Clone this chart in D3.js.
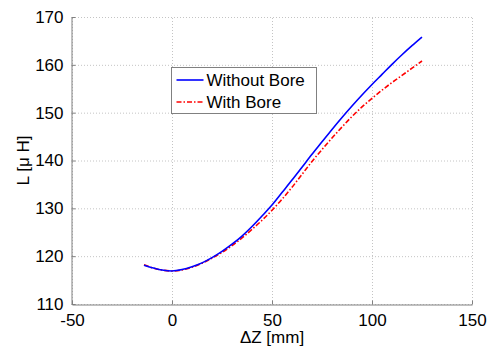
<!DOCTYPE html>
<html>
<head>
<meta charset="utf-8">
<script src="https://cdn.jsdelivr.net/npm/d3@7"></script>
<style>
  html, body { margin: 0; padding: 0; background: #fff; }
  svg text { font-family: "Liberation Sans", Arial, Helvetica, sans-serif; }
</style>
</head>
<body>
<svg id="chart"></svg>
<script>
// ==== DATA ====
const dz = [-14, -10, -5, 0, 5, 10, 15, 20, 25, 30, 35, 40, 45, 50, 55, 60, 65,
  70, 75, 80, 85, 90, 95, 100, 105, 110, 115, 120, 125];

const withoutBore = [118.1, 117.6, 117.1, 116.9, 117.2, 117.8, 118.6, 119.7, 121.0,
  122.5, 124.2, 126.2, 128.4, 130.7, 133.3, 135.9, 138.6, 141.3, 143.9, 146.5,
  149.0, 151.4, 153.7, 155.9, 158.0, 160.1, 162.1, 164.0, 165.8];

const withBore = [118.2, 117.6, 117.1, 116.9, 117.1, 117.7, 118.5, 119.6, 120.8,
  122.2, 123.8, 125.6, 127.5, 129.6, 131.9, 134.4, 137.1, 139.8, 142.3, 144.7,
  147.0, 149.2, 151.2, 153.0, 154.7, 156.3, 157.8, 159.3, 160.8];

const xTicks = [-50, 0, 50, 100, 150];
const yTicks = [110, 120, 130, 140, 150, 160, 170];

const seriesNames = ["Without Bore", "With Bore"];

// ==== LAYOUT ====
const width = 501, height = 348;
const margin = { left: 72, right: 29, top: 17, bottom: 44 };
const FONT = 17;
const AXIS_COLOR = "#808080";
const GRID_COLOR = "#c4c4c4";

const svg = d3.select("#chart").attr("width", width).attr("height", height);

const x = d3.scaleLinear().domain([-50, 150]).range([margin.left, width - margin.right]);
const y = d3.scaleLinear().domain([110, 170]).range([height - margin.bottom, margin.top]);

// matlab style tick text: plain hyphen for negatives
const fmt = d => String(d);

// grid (dotted)
const grid = svg.append("g").attr("class", "grid");
grid.selectAll("line.gx")
  .data(xTicks)
  .join("line")
  .attr("class", "gx")
  .attr("x1", d => x(d) + 0.5).attr("x2", d => x(d) + 0.5)
  .attr("y1", y(110)).attr("y2", y(170))
  .attr("stroke", GRID_COLOR)
  .attr("stroke-dasharray", "1,2");

grid.selectAll("line.gy")
  .data(yTicks)
  .join("line")
  .attr("class", "gy")
  .attr("y1", d => y(d) + 0.5).attr("y2", d => y(d) + 0.5)
  .attr("x1", x(-50)).attr("x2", x(150))
  .attr("stroke", GRID_COLOR)
  .attr("stroke-dasharray", "1,2");

// axes (box off: only left and bottom)
const xAxis = d3.axisBottom(x).tickValues(xTicks).tickFormat(fmt)
  .tickSizeInner(-4).tickSizeOuter(0).tickPadding(9);
const yAxis = d3.axisLeft(y).tickValues(yTicks).tickFormat(fmt)
  .tickSizeInner(-4).tickSizeOuter(0).tickPadding(8);

const gx = svg.append("g")
  .attr("transform", `translate(0,${y(110) + 0.5})`)
  .call(xAxis);
const gy = svg.append("g")
  .attr("transform", `translate(${x(-50) - 0.5},0)`)
  .call(yAxis);

[gx, gy].forEach(g => {
  g.select(".domain").attr("stroke", AXIS_COLOR);
  g.selectAll(".tick line").attr("stroke", AXIS_COLOR);
  g.selectAll(".tick text")
    .attr("fill", "#000")
    .style("font-size", FONT + "px");
});

// axis labels
svg.append("text")
  .attr("x", (x(-50) + x(150)) / 2)
  .attr("y", height - 5)
  .attr("text-anchor", "middle")
  .style("font-size", FONT + "px")
  .text("ΔZ [mm]");

svg.append("text")
  .attr("transform", `translate(29,${(y(110) + y(170)) / 2}) rotate(-90)`)
  .attr("text-anchor", "middle")
  .style("font-size", FONT + "px")
  .text("L [μ H]");

// lines
const lineGen = vals => d3.line()
  .x((d, i) => x(dz[i]))
  .y(d => y(d))
  .curve(d3.curveMonotoneX)(vals);

svg.append("path")
  .attr("d", lineGen(withBore))
  .attr("fill", "none")
  .attr("stroke", "#ff0000")
  .attr("stroke-width", 1.6)
  .attr("stroke-dasharray", "5,2,1.5,2");

svg.append("path")
  .attr("d", lineGen(withoutBore))
  .attr("fill", "none")
  .attr("stroke", "#0000ff")
  .attr("stroke-width", 1.6);

// legend
const legend = svg.append("g").attr("transform", "translate(171.5,67.5)");
legend.append("rect")
  .attr("width", 145).attr("height", 46)
  .attr("fill", "#fff")
  .attr("stroke", AXIS_COLOR);

const styles = [
  { color: "#0000ff", dash: null },
  { color: "#ff0000", dash: "5,2,1.5,2" }
];

seriesNames.forEach((name, i) => {
  const rowY = 12.5 + i * 22;
  legend.append("line")
    .attr("x1", 5).attr("x2", 32)
    .attr("y1", rowY).attr("y2", rowY)
    .attr("stroke", styles[i].color)
    .attr("stroke-width", 1.6)
    .attr("stroke-dasharray", styles[i].dash);
  legend.append("text")
    .attr("x", 35)
    .attr("y", rowY)
    .attr("dy", "0.36em")
    .style("font-size", FONT + "px")
    .text(name);
});
</script>
</body>
</html>
